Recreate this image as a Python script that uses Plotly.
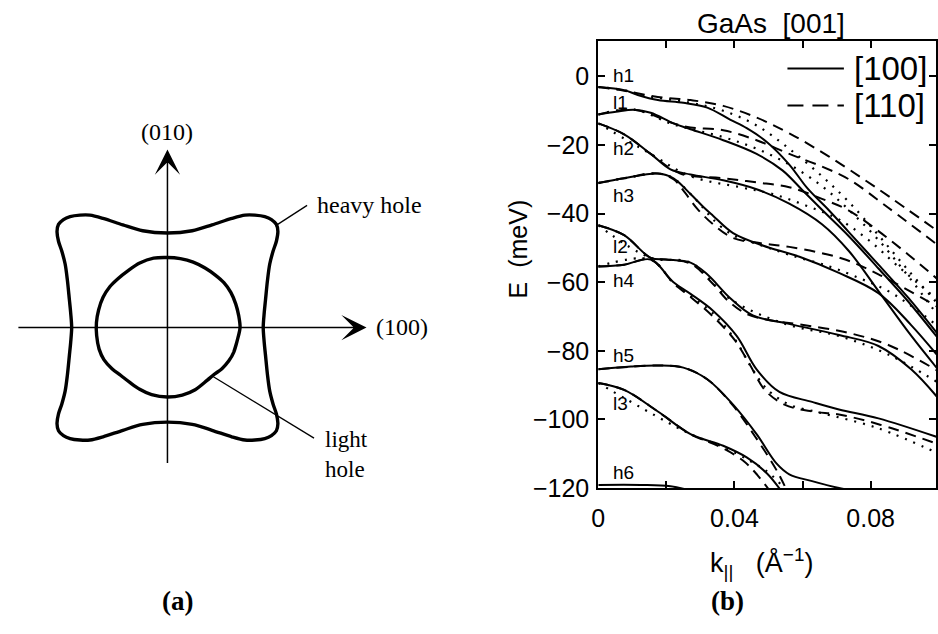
import numpy as np
import plotly.graph_objects as go

W, H = 938, 634

# ---------------- (a) constant-energy contours, (100)-(010) plane ----------------
# first quadrant of the heavy-hole contour; the rest follows from cubic symmetry
hh_q1_x = [96.7, 97.7, 99.0, 101.0, 103.3, 106.7, 110.0, 111.5, 110.0, 105.0,
           98.3, 88.3, 78.3, 65.0, 45.0, 25.0, 0.0]
hh_q1_y = [0.0, 15.0, 28.3, 48.3, 65.0, 78.3, 88.3, 98.3, 105.5, 110.5,
           113.5, 115.0, 115.0, 111.7, 105.0, 99.0, 96.7]

# light-hole contour, full loop
lh_x = [73.3, 72, 69, 64, 57, 48, 38, 26, 13, 0, -14, -28, -40, -50, -58, -65, -69.5,
        -71.7, -71.5, -69, -64, -56, -47, -38, -28, -16, 0, 15, 28, 40, 47, 55, 62, 67,
        70.5, 73.3]
lh_y = [0, 12, 24, 36, 46, 54, 61, 67, 70.5, 71.7, 71, 66, 58, 50, 42, 31, 18, 5, -8,
        -22, -33, -42, -49, -56, -63, -68.5, -71, -69, -63.5, -54, -48, -42, -34, -25,
        -13, 0]

# ---------------- (b) GaAs [001] subband dispersion ----------------
# solid: [100]
k_h1_100 = [0, .0076, .0116, .0175, .0250, .0320, .0387, .0436, .0495, .0561, .0614, .0678, .0736, .0823, .0911, .1000]
E_h1_100 = [-3.1, -4.0, -5.4, -6.9, -7.7, -9.1, -12.6, -15.1, -19.1, -25.7, -32.6, -39.1, -45.4, -54.9, -64.6, -75.5]
k_l1_100 = [0, .0052, .0105, .0154, .0221, .0271, .0367, .0465, .0541, .0599, .0657, .0736, .0823, .0911, .1000]
E_l1_100 = [-11.1, -10.3, -9.7, -10.6, -13.7, -15.4, -18.6, -22.6, -27.4, -33.1, -38.9, -46.6, -56.0, -65.7, -76.6]
k_h2_100 = [0, .0076, .0154, .0212, .0271, .0367, .0465, .0561, .0657, .0736, .0823, .0919, .1000]
E_h2_100 = [-13.7, -16.9, -22.6, -27.1, -28.6, -30.3, -32.9, -37.1, -43.1, -50.9, -62.6, -75.6, -85.7]
k_h3_100 = [0, .0076, .0175, .0221, .0271, .0308, .0337, .0396, .0483, .0591, .0707, .0823, .0919, .1000]
E_h3_100 = [-31.1, -29.7, -28.3, -29.7, -34.3, -38.0, -40.6, -45.7, -49.3, -52.6, -57.3, -63.2, -72.5, -81.8]
k_l2_100 = [0, .0076, .0154, .0198, .0271, .0320, .0387, .0454, .0553, .0707, .0823, .0919, .1000]
E_l2_100 = [-43.4, -46.3, -52.9, -53.4, -54.3, -57.7, -64.6, -69.7, -72.0, -75.4, -78.6, -85.4, -94.0]
k_h4_100 = [0, .0076, .0154, .0221, .0271, .0337, .0407, .0465, .0532, .0628, .0707, .0823, .1000]
E_h4_100 = [-55.4, -54.9, -53.4, -60.0, -63.4, -68.3, -75.7, -85.4, -92.0, -94.9, -97.1, -99.7, -105.3]
k_h5_100 = [0, .0096, .0175, .0250, .0320, .0396, .0465, .0524, .0561, .0628, .0707, .0760]
E_h5_100 = [-85.4, -84.6, -84.3, -84.9, -88.3, -95.7, -104.3, -112.9, -116.0, -118.0, -120.0, -121.0]
k_l3_100 = [0, .0076, .0175, .0271, .0367, .0436, .0495, .0540]
E_l3_100 = [-89.4, -91.4, -97.7, -104.3, -107.7, -111.1, -115.7, -121.2]
k_h6_100 = [0, .0125, .0212, .0280]
E_h6_100 = [-119.1, -119.1, -119.5, -121.0]

# dashed: [110]
k_h1_110 = [0, .0076, .0175, .0271, .0367, .0465, .0561, .0678, .0823, .1000]
E_h1_110 = [-3.1, -4.2, -6.0, -6.9, -8.6, -12.0, -16.6, -23.4, -32.9, -45.3]
k_l1_110 = [0, .0105, .0221, .0271, .0367, .0465, .0561, .0657, .0736, .0852, .1000]
E_l1_110 = [-11.1, -9.7, -13.7, -14.9, -15.7, -18.6, -22.6, -26.3, -30.0, -38.3, -49.4]
k_h2_110 = [0, .0076, .0154, .0241, .0367, .0465, .0561, .0657, .0736, .0823, .0911, .1000]
E_h2_110 = [-13.7, -16.9, -22.6, -28.3, -29.7, -30.9, -32.3, -35.7, -39.1, -45.1, -52.0, -59.4]
k_h3_110 = [0, .0076, .0175, .0221, .0253, .0291, .0337, .0396, .0474, .0561, .0716, .0823, .1000]
E_h3_110 = [-31.1, -29.7, -28.3, -30.0, -33.7, -38.6, -43.1, -47.1, -48.6, -49.7, -53.1, -57.7, -67.4]
k_l2_110 = [0, .0076, .0154, .0198, .0271, .0335, .0381, .0433, .0503, .0591, .0727, .0852, .1000]
E_l2_110 = [-43.4, -46.3, -52.9, -53.4, -54.6, -60.3, -65.4, -69.1, -71.1, -72.3, -74.6, -78.3, -86.0]
k_h4_110 = [0, .0076, .0154, .0221, .0271, .0337, .0401, .0445, .0489, .0547, .0628, .0707, .0823, .1000]
E_h4_110 = [-55.4, -54.9, -53.4, -60.3, -64.3, -70.0, -76.9, -84.0, -91.4, -95.7, -97.7, -98.6, -101.4, -107.3]
k_h5_110 = [0, .0175, .0250, .0320, .0396, .0460, .0503, .0532, .0555]
E_h5_110 = [-85.4, -84.3, -84.9, -88.3, -96.0, -104.9, -111.4, -116.3, -121.0]
k_l3_110 = [0, .0076, .0175, .0271, .0358, .0425, .0468, .0505]
E_l3_110 = [-89.4, -91.4, -97.7, -104.3, -108.0, -112.0, -116.3, -121.0]

# dotted: intermediate in-plane direction
k_h1_dot = [0, .0076, .0125, .0271, .0367, .0465, .0561, .0657, .0736, .0823, .0911, .1000]
E_h1_dot = [-3.1, -4.0, -5.4, -7.7, -10.0, -14.3, -21.1, -29.1, -36.6, -46.3, -56.6, -66.6]
k_l1_dot = [0, .0105, .0221, .0367, .0465, .0561, .0657, .0736, .0823, .0911, .1000]
E_l1_dot = [-11.1, -9.7, -14.0, -17.7, -21.1, -25.7, -32.0, -38.9, -47.7, -58.3, -70.0]
k_h2_dot = [0, .0154, .0271, .0416, .0512, .0611, .0707, .0794, .0881, .1000]
E_h2_dot = [-13.7, -22.6, -29.1, -32.3, -34.3, -37.7, -41.7, -47.7, -55.4, -65.4]
k_h3_dot = [0, .0076, .0175, .0221, .0271, .0308, .0337, .0396, .0474, .0561, .0678, .0774, .0852, .0919, .1000]
E_h3_dot = [-31.1, -29.7, -28.3, -29.7, -34.3, -38.3, -41.7, -46.3, -49.1, -52.0, -55.4, -59.1, -62.6, -66.9, -73.0]
k_l2_dot = [0, .0154, .0271, .0387, .0553, .0707, .0852, .1000]
E_l2_dot = [-43.4, -52.9, -54.3, -64.9, -72.3, -75.7, -81.1, -89.4]
k_h4_dot = [0, .0154, .0221, .0271, .0337, .0401, .0450, .0495, .0561, .0649, .0823, .1000]
E_h4_dot = [-55.4, -53.4, -60.3, -64.0, -69.1, -76.6, -84.9, -91.1, -95.7, -98.0, -102.6, -110.0]
k_l3_dot = [0, .0271, .0367, .0440, .0500, .0555]
E_l3_dot = [-89.4, -104.3, -108.0, -111.8, -115.5, -121.0]

band_names = ["h1", "l1", "h2", "h3", "l2", "h4", "h5", "l3", "h6"]
band_label_E = [0.3, -7.7, -21.1, -34.6, -49.7, -59.4, -81.4, -95.4, -115.4]

x_ticks = [0, 0.02, 0.04, 0.06, 0.08]
x_ticktext = ["0", "", "0.04", "", "0.08"]
y_ticks = [-120, -100, -80, -60, -40, -20, 0]

SANS = "Liberation Sans"
SERIF = "Liberation Serif"

fig = go.Figure()


def closed(a):
    """Pad a closed loop with overlapping ends so the spline has no seam."""
    a = np.asarray(a, dtype=float)
    return np.concatenate([a[-3:-1], a, a[1:3]])


# heavy-hole loop from the first-quadrant arc
qx, qy = np.array(hh_q1_x), np.array(hh_q1_y)
hh_x = np.concatenate([qx, -qx[::-1][1:], -qx[1:], qx[::-1][1:]])
hh_y = np.concatenate([qy, qy[::-1][1:], -qy[1:], -qy[::-1][1:]])

for cx, cy in [(hh_x, hh_y), (lh_x, lh_y)]:
    fig.add_trace(go.Scatter(x=closed(cx), y=closed(cy), mode="lines",
                             line=dict(color="black", width=3.4, shape="spline", smoothing=0.9),
                             xaxis="x2", yaxis="y2", showlegend=False, hoverinfo="skip"))

# subband curves
solid = [(k_h1_100, E_h1_100), (k_l1_100, E_l1_100), (k_h2_100, E_h2_100), (k_h3_100, E_h3_100),
         (k_l2_100, E_l2_100), (k_h4_100, E_h4_100), (k_h5_100, E_h5_100), (k_l3_100, E_l3_100),
         (k_h6_100, E_h6_100)]
dashed = [(k_h1_110, E_h1_110), (k_l1_110, E_l1_110), (k_h2_110, E_h2_110), (k_h3_110, E_h3_110),
          (k_l2_110, E_l2_110), (k_h4_110, E_h4_110), (k_h5_110, E_h5_110), (k_l3_110, E_l3_110)]
dotted = [(k_h1_dot, E_h1_dot), (k_l1_dot, E_l1_dot), (k_h2_dot, E_h2_dot), (k_h3_dot, E_h3_dot),
          (k_l2_dot, E_l2_dot), (k_h4_dot, E_h4_dot), (k_l3_dot, E_l3_dot)]

for group, dash, w in [(dotted, "2px,7px", 2.2), (dashed, "11px,7px", 2.0), (solid, "solid", 2.0)]:
    for k, E in group:
        fig.add_trace(go.Scatter(x=k, y=E, mode="lines",
                                 line=dict(color="black", width=w, dash=dash, shape="spline", smoothing=1.0),
                                 xaxis="x", yaxis="y", showlegend=False, hoverinfo="skip"))

ann = []
# band labels
for name, e in zip(band_names, band_label_E):
    ann.append(dict(x=0.0036, y=e, xref="x", yref="y", text=name, showarrow=False,
                    xanchor="left", yanchor="middle", font=dict(family=SANS, size=19, color="black")))

# panel (a): axes with arrowheads
ann.append(dict(x=201, y=0, ax=-152, ay=0, xref="x2", yref="y2", axref="x2", ayref="y2",
                text="", showarrow=True, arrowhead=3, arrowsize=2.8, arrowwidth=1.5, arrowcolor="black"))
ann.append(dict(x=0, y=182, ax=0, ay=-140, xref="x2", yref="y2", axref="x2", ayref="y2",
                text="", showarrow=True, arrowhead=3, arrowsize=2.8, arrowwidth=1.5, arrowcolor="black"))
a_font = dict(family=SERIF, size=24, color="black")
ann += [
    dict(x=0, y=200, xref="x2", yref="y2", text="(010)", showarrow=False, font=a_font,
         xanchor="center", yanchor="middle"),
    dict(x=209, y=1, xref="x2", yref="y2", text="(100)", showarrow=False, font=a_font,
         xanchor="left", yanchor="middle"),
    dict(x=149, y=125, xref="x2", yref="y2", text="heavy hole", showarrow=False, font=a_font,
         xanchor="left", yanchor="middle"),
    dict(x=157, y=-130, xref="x2", yref="y2", text="light<br>hole", showarrow=False,
         font=dict(family=SERIF, size=23, color="black"), align="left",
         xanchor="left", yanchor="middle"),
]

# panel captions
cap_font = dict(family=SERIF, size=27, color="black")
ann += [
    dict(x=172 / W, y=1 - 615 / H, xref="paper", yref="paper", text="<b>(a)</b>", showarrow=False,
         font=cap_font, xanchor="center", yanchor="middle"),
    dict(x=727 / W, y=1 - 615 / H, xref="paper", yref="paper", text="<b>(b)</b>", showarrow=False,
         font=cap_font, xanchor="center", yanchor="middle"),
]

# panel (b): title, axis titles, legend
ann += [
    dict(x=771 / W, y=1 - 24 / H, xref="paper", yref="paper", text="GaAs  [001]", showarrow=False,
         font=dict(family=SANS, size=28, color="black"), xanchor="center", yanchor="middle"),
    dict(x=516 / W, y=1 - 255 / H, xref="paper", yref="paper", text="E  (meV)", showarrow=False,
         textangle=-90, font=dict(family=SANS, size=25, color="black"), xanchor="center", yanchor="middle"),
    dict(x=762 / W, y=1 - 576 / H, xref="paper", yref="paper",
         text="k<sub>||</sub>   (Å<sup>−1</sup>)", showarrow=False,
         font=dict(family=SANS, size=27, color="black"), xanchor="center", yanchor="middle"),
    dict(x=853 / W, y=1 - 70 / H, xref="paper", yref="paper", text="[100]", showarrow=False,
         font=dict(family=SANS, size=33, color="black"), xanchor="left", yanchor="middle"),
    dict(x=853 / W, y=1 - 108 / H, xref="paper", yref="paper", text="[110]", showarrow=False,
         font=dict(family=SANS, size=33, color="black"), xanchor="left", yanchor="middle"),
]

shapes = [
    dict(type="line", xref="paper", yref="paper", x0=788 / W, x1=845 / W, y0=1 - 70 / H, y1=1 - 70 / H,
         line=dict(color="black", width=2)),
    dict(type="line", xref="paper", yref="paper", x0=788 / W, x1=845 / W, y0=1 - 108 / H, y1=1 - 108 / H,
         line=dict(color="black", width=2, dash="16px,9px")),
    # leader lines in panel (a)
    dict(type="line", xref="x2", yref="y2", x0=109, y0=104, x1=141, y1=125, line=dict(color="black", width=1.3)),
    dict(type="line", xref="x2", yref="y2", x0=46, y0=-50, x1=148, y1=-113, line=dict(color="black", width=1.3)),
]

axis_font = dict(family=SANS, size=25, color="black")
fig.update_layout(
    width=W, height=H, autosize=False,
    margin=dict(l=0, r=0, t=0, b=0),
    paper_bgcolor="white", plot_bgcolor="white",
    showlegend=False,
    xaxis=dict(domain=[597 / W, 1.0], range=[0, 0.0992], anchor="y",
               tickvals=x_ticks, ticktext=x_ticktext, ticks="inside", ticklen=7, tickwidth=1.5,
               tickcolor="black", showline=True, linecolor="black", linewidth=2, mirror="ticks",
               showgrid=False, zeroline=False, tickfont=axis_font, ticklabelstandoff=7),
    yaxis=dict(domain=[135 / H, 592 / H], range=[-120, 10.3], anchor="x",
               tickvals=y_ticks, ticks="inside", ticklen=7, tickwidth=1.5, tickcolor="black",
               showline=True, linecolor="black", linewidth=2, mirror="ticks",
               showgrid=False, zeroline=False, tickfont=axis_font, ticklabelstandoff=2),
    xaxis2=dict(domain=[0, 480 / W], range=[-162, 318], anchor="y2", visible=False),
    yaxis2=dict(domain=[0, 1], range=[-299, 335], anchor="x2", visible=False),
    annotations=ann,
    shapes=shapes,
)

fig.write_html("out.html")
